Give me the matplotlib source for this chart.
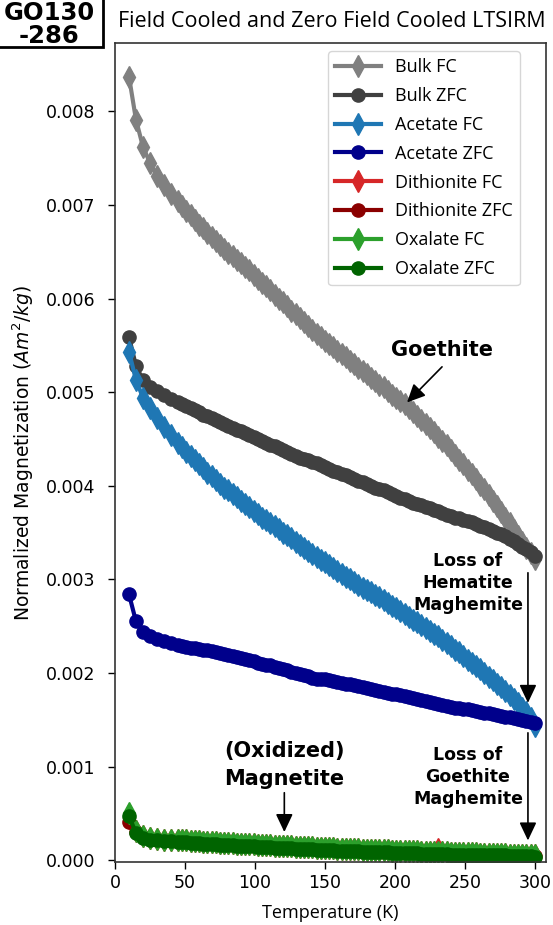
import matplotlib
matplotlib.use("Agg")
import matplotlib.pyplot as plt
from matplotlib.patches import Rectangle

temperature = [10, 15, 20, 25, 30, 35, 40, 45,
               48, 51, 54, 57, 60, 63, 66, 69, 72, 75, 78, 81, 84, 87, 90, 93, 96, 99,
               102, 105, 108, 111, 114, 117, 120, 123, 126, 129, 132, 135, 138, 141, 144, 147,
               150, 153, 156, 159, 162, 165, 168, 171, 174, 177, 180, 183, 186, 189, 192, 195,
               198, 201, 204, 207, 210, 213, 216, 219, 222, 225, 228, 231, 234, 237, 240, 243,
               246, 249, 252, 255, 258, 261, 264, 267, 270, 273, 276, 279, 282, 285, 288, 291,
               294, 297, 300]

bulk_fc = [.00837, .00791, .00762, .00745, .00731, .00721, .00712, .00704,
           .00699, .00694, .00689, .00684, .00679, .00675, .00670, .00666, .00661, .00657,
           .00653, .00649, .00645, .00641, .00638, .00634, .00630, .00625,
           .00621, .00617, .00613, .00609, .00604, .00600, .00596, .00592, .00587, .00583,
           .00579, .00575, .00571, .00566, .00562, .00559,
           .00555, .00551, .00548, .00544, .00541, .00537, .00533, .00530, .00526, .00523,
           .00519, .00515, .00512, .00508, .00505, .00501,
           .00497, .00494, .00490, .00487, .00483, .00479, .00475, .00470, .00466, .00462,
           .00457, .00452, .00448, .00443, .00438, .00433,
           .00428, .00423, .00417, .00412, .00407, .00401, .00396, .00390, .00384, .00378,
           .00372, .00366, .00360, .00353, .00346, .00340,
           .00334, .00328, .00322]

bulk_zfc = [.00559, .00528, .00513, .00506, .00501, .00497, .00493, .00489,
            .00487, .00485, .00483, .00481, .00479, .00476, .00474, .00472, .00470, .00468,
            .00466, .00464, .00462, .00460, .00458, .00456, .00454, .00452,
            .00450, .00448, .00446, .00444, .00442, .00440, .00438, .00436, .00434, .00432,
            .00430, .00429, .00427, .00425, .00424, .00422,
            .00420, .00418, .00416, .00415, .00413, .00411, .00409, .00407, .00405, .00404,
            .00402, .00400, .00398, .00397, .00395, .00393,
            .00391, .00389, .00387, .00386, .00384, .00382, .00381, .00379, .00377, .00376,
            .00374, .00373, .00371, .00369, .00368, .00366,
            .00365, .00363, .00362, .00361, .00359, .00357, .00356, .00354, .00352, .00350,
            .00348, .00346, .00343, .00341, .00338, .00335,
            .00332, .00329, .00325]

acetate_fc = [.00543, .00513, .00494, .00483, .00472, .00463, .00454, .00446,
              .00441, .00436, .00432, .00427, .00423, .00419, .00414, .00410, .00406, .00402,
              .00398, .00395, .00391, .00388, .00384, .00380, .00377, .00373,
              .00370, .00366, .00363, .00360, .00357, .00354, .00350, .00347, .00344, .00340,
              .00337, .00334, .00330, .00327, .00324, .00321,
              .00318, .00315, .00312, .00309, .00306, .00303, .00300, .00297, .00294, .00291,
              .00289, .00286, .00283, .00281, .00278, .00275,
              .00272, .00269, .00266, .00263, .00260, .00257, .00254, .00251, .00248, .00245,
              .00242, .00239, .00235, .00232, .00229, .00225,
              .00222, .00218, .00214, .00211, .00207, .00204, .00200, .00196, .00192, .00188,
              .00185, .00181, .00176, .00172, .00168, .00163,
              .00158, .00152, .00143]

acetate_zfc = [.00284, .00255, .00244, .00239, .00236, .00234, .00232, .00230,
               .00229, .00228, .00227, .00227, .00226, .00225, .00224, .00223, .00222, .00221,
               .00220, .00219, .00218, .00217, .00216, .00215, .00214, .00213,
               .00211, .00210, .00209, .00208, .00206, .00205, .00204, .00203, .00201, .00200,
               .00199, .00198, .00197, .00195, .00194, .00194,
               .00193, .00192, .00191, .00190, .00189, .00188, .00188, .00187, .00186, .00185,
               .00184, .00183, .00182, .00181, .00180, .00179,
               .00178, .00177, .00176, .00175, .00174, .00173, .00172, .00171, .00170, .00169,
               .00168, .00167, .00166, .00165, .00164, .00163,
               .00162, .00161, .00161, .00160, .00159, .00158, .00157, .00157, .00156, .00155,
               .00154, .00153, .00153, .00152, .00151, .00150,
               .00149, .00148, .00147]

dithionite_fc = [.00045, .00031, .00026, .00024, .00023, .00022, .00022, .00021,
                 .00021, .00021, .00020, .00020, .00020, .00019, .00019, .00019, .00019, .00018,
                 .00018, .00018, .00018, .00017, .00017, .00017, .00017, .00017,
                 .00016, .00016, .00016, .00016, .00015, .00015, .00015, .00015, .00015, .00014,
                 .00014, .00014, .00014, .00014, .00013, .00013,
                 .00013, .00013, .00013, .00012, .00012, .00012, .00012, .00012, .00012, .00011,
                 .00011, .00011, .00011, .00011, .00011, .00011,
                 .00010, .00010, .00010, .00010, .00010, .00010, .00010, .00009, .00009, .00009,
                 .00009, .00012, .00009, .00009, .00008, .00008,
                 .00008, .00008, .00008, .00008, .00008, .00007, .00007, .00007, .00007, .00007,
                 .00007, .00007, .00006, .00006, .00006, .00006,
                 .00006, .00006, .00005]

dithionite_zfc = [.00041, .00030, .00025, .00023, .00022, .00021, .00021, .00020,
                  .00020, .00020, .00019, .00019, .00019, .00018, .00018, .00018, .00018, .00017,
                  .00017, .00017, .00017, .00016, .00016, .00016, .00016, .00016,
                  .00015, .00015, .00015, .00015, .00014, .00014, .00014, .00014, .00014, .00013,
                  .00013, .00013, .00013, .00013, .00012, .00012,
                  .00012, .00012, .00012, .00011, .00011, .00011, .00011, .00011, .00011, .00010,
                  .00010, .00010, .00010, .00010, .00010, .00010,
                  .00009, .00009, .00009, .00009, .00009, .00009, .00009, .00008, .00008, .00008,
                  .00008, .00008, .00008, .00008, .00007, .00007,
                  .00007, .00007, .00007, .00007, .00007, .00006, .00006, .00006, .00006, .00006,
                  .00006, .00006, .00005, .00005, .00005, .00005,
                  .00005, .00005, .00004]

oxalate_fc = [.00050, .00031, .00026, .00024, .00023, .00022, .00022, .00021,
              .00021, .00021, .00020, .00020, .00020, .00019, .00019, .00019, .00019, .00018,
              .00018, .00018, .00018, .00017, .00017, .00017, .00017, .00017,
              .00016, .00016, .00016, .00016, .00015, .00015, .00015, .00015, .00015, .00014,
              .00014, .00014, .00014, .00014, .00013, .00013,
              .00013, .00013, .00013, .00012, .00012, .00012, .00012, .00012, .00012, .00011,
              .00011, .00011, .00011, .00011, .00011, .00011,
              .00010, .00010, .00010, .00010, .00010, .00010, .00010, .00009, .00009, .00009,
              .00009, .00009, .00009, .00009, .00008, .00008,
              .00008, .00008, .00008, .00008, .00008, .00007, .00007, .00007, .00007, .00007,
              .00007, .00007, .00006, .00006, .00006, .00006,
              .00006, .00006, .00005]

oxalate_zfc = [.00047, .00029, .00024, .00022, .00021, .00020, .00020, .00019,
               .00019, .00019, .00018, .00018, .00018, .00017, .00017, .00017, .00017, .00016,
               .00016, .00016, .00016, .00015, .00015, .00015, .00015, .00015,
               .00014, .00014, .00014, .00014, .00013, .00013, .00013, .00013, .00013, .00012,
               .00012, .00012, .00012, .00012, .00011, .00011,
               .00011, .00011, .00011, .00010, .00010, .00010, .00010, .00010, .00010, .00009,
               .00009, .00009, .00009, .00009, .00009, .00009,
               .00008, .00008, .00008, .00008, .00008, .00008, .00008, .00007, .00007, .00007,
               .00007, .00007, .00007, .00007, .00006, .00006,
               .00006, .00006, .00006, .00006, .00006, .00005, .00005, .00005, .00005, .00005,
               .00005, .00005, .00004, .00004, .00004, .00004,
               .00004, .00004, .00003]

series_labels = ["Bulk FC", "Bulk ZFC", "Acetate FC", "Acetate ZFC",
                 "Dithionite FC", "Dithionite ZFC", "Oxalate FC", "Oxalate ZFC"]
series_values = [bulk_fc, bulk_zfc, acetate_fc, acetate_zfc,
                 dithionite_fc, dithionite_zfc, oxalate_fc, oxalate_zfc]
series_colors = ["#808080", "#404040", "#1f77b4", "#00008b",
                 "#d62728", "#8b0000", "#2ca02c", "#006400"]
series_markers = ["d", "o", "d", "o", "d", "o", "d", "o"]

x_ticks = [0, 50, 100, 150, 200, 250, 300]
y_ticks = [0.000, 0.001, 0.002, 0.003, 0.004, 0.005, 0.006, 0.007, 0.008]

W, H = 553, 925
fig = plt.figure(figsize=(W / 100, H / 100), dpi=100)
ax = fig.add_axes([115 / W, 1 - 862 / H, (546 - 115) / W, (862 - 43) / H])

for vals, lab, col, mk in zip(series_values, series_labels, series_colors, series_markers):
    n = min(len(temperature), len(vals))
    ax.plot(temperature[:n], vals[:n], color=col, marker=mk,
            markersize=11 if mk == "d" else 9.5, linewidth=3, label=lab)

ax.set_xlim(0, 308)
ax.set_ylim(-0.00002, 0.00873)
ax.set_xticks(x_ticks)
ax.set_yticks(y_ticks)
ax.set_xticklabels([str(t) for t in x_ticks])
ax.set_yticklabels([f"{t:.3f}" for t in y_ticks])
ax.tick_params(direction="out", length=5, width=1, labelsize=12.5, colors="black")
ax.tick_params(axis="y", pad=9)
for s in ax.spines.values():
    s.set_color("#333333")
    s.set_linewidth(1.2)

ax.set_xlabel("Temperature (K)", fontsize=13, family="Open Sans", labelpad=9)
ax.set_ylabel("Normalized Magnetization ($Am^2/kg$)", fontsize=13.5, labelpad=7)

ax.legend(loc="upper right", bbox_to_anchor=((520 - 115) / (546 - 115), 1 - 8 / 819),
          borderaxespad=0, prop={"family": "Open Sans", "size": 13},
          handlelength=2.5, labelspacing=0.6, handletextpad=0.8)

fig.text(118 / W, 1 - 27 / H, "Field Cooled and Zero Field Cooled LTSIRM",
         family="Open Sans", fontsize=15.5, ha="left", va="baseline")

# sample id box
fig.patches.append(Rectangle((-10 / W, 1 - 47 / H), 113 / W, 60 / H, transform=fig.transFigure,
                             fill=False, edgecolor="black", linewidth=2))
fig.text(49 / W, 1 - 20 / H, "GO130", fontsize=17.5, fontweight="bold",
         ha="center", va="baseline")
fig.text(49 / W, 1 - 43 / H, "-286", fontsize=17.5, fontweight="bold",
         ha="center", va="baseline")

arrow = dict(arrowstyle="-|>,head_length=0.55,head_width=0.26", color="black",
             lw=1.2, mutation_scale=20, shrinkA=0, shrinkB=0)

ax.text(233.7, 0.00545, "Goethite", fontsize=15, fontweight="bold", ha="center", va="center")
ax.annotate("", xy=(208.7, 0.00489), xytext=(233.7, 0.00527), arrowprops=arrow)

ax.text(252.3, 0.00296, "Loss of\nHematite\nMaghemite", fontsize=12.5, fontweight="bold",
        ha="center", va="center", linespacing=1.3)
ax.annotate("", xy=(295.1, 0.00168), xytext=(295.1, 0.00307), arrowprops=arrow)

ax.text(252.3, 0.00089, "Loss of\nGoethite\nMaghemite", fontsize=12.5, fontweight="bold",
        ha="center", va="center", linespacing=1.3)
ax.annotate("", xy=(295.1, 0.00021), xytext=(295.1, 0.00136), arrowprops=arrow)

ax.text(120.8, 0.00102, "(Oxidized)\nMagnetite", fontsize=15, fontweight="bold",
        ha="center", va="center", linespacing=1.5)
ax.annotate("", xy=(121, 0.00030), xytext=(121, 0.00072), arrowprops=arrow)

fig.savefig("out.png", dpi=100)
